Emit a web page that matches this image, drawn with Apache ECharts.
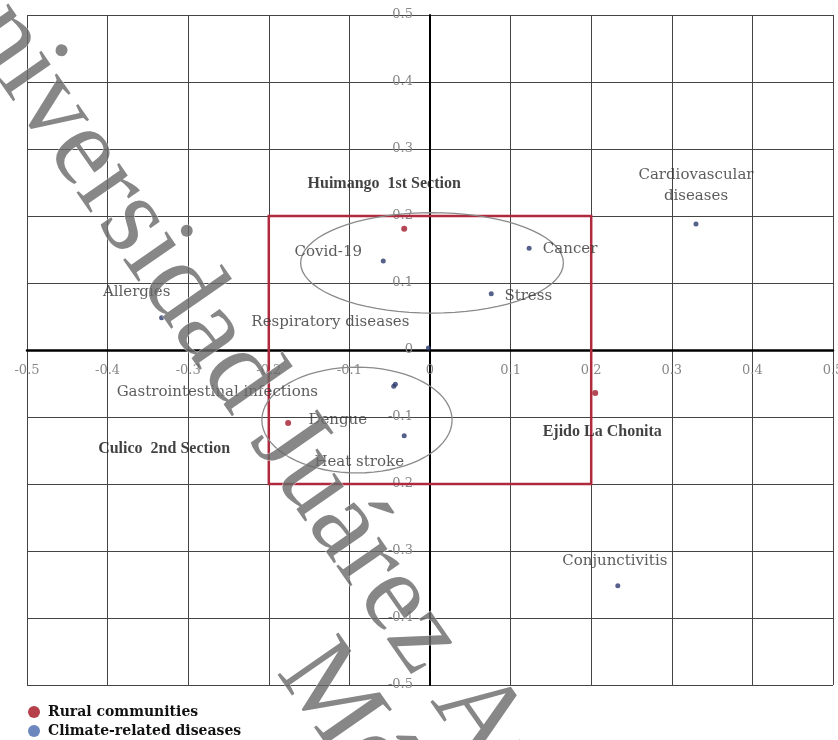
<!DOCTYPE html>
<html>
<head>
<meta charset="utf-8">
<style>
  html, body { margin: 0; padding: 0; background: #fff; }
  #chart { width: 838px; height: 740px; }
</style>
<script src="https://cdn.jsdelivr.net/npm/echarts@6/dist/echarts.min.js"></script>
</head>
<body>
<div id="chart"></div>
<script>
// climate-related diseases (blue points)
const diseaseNames = ['Allergies', 'Covid-19', 'Cancer', 'Stress', 'Cardiovascular\ndiseases',
  'Respiratory diseases', 'Gastrointestinal infections', 'Dengue', 'Heat stroke', 'Conjunctivitis']
const diseaseX = [-0.333, -0.058, 0.123, 0.076, 0.330, -0.002, -0.043, -0.045, -0.032, 0.233]
const diseaseY = [0.048, 0.133, 0.152, 0.084, 0.188, 0.003, -0.051, -0.054, -0.128, -0.352]

// rural communities (red points)
const communityNames = ['Huimango  1st Section', 'Culico  2nd Section', 'Ejido La Chonita']
const communityX = [-0.032, -0.176, 0.205]
const communityY = [0.181, -0.109, -0.064]

// ellipses drawn around the clusters: [cx, cy, rx, ry]
const clusterEllipses = [
  [0.0025, 0.130, 0.163, 0.075],
  [-0.0906, -0.1045, 0.118, 0.079]
]

// label placement (pixels from the point)
const labelOffsets = {
  'Allergies': [-25, -26],
  'Covid-19': [-55, -9],
  'Cancer': [41, 1],
  'Stress': [37, 2],
  'Cardiovascular\ndiseases': [0, -38],
  'Respiratory diseases': [-98, -26],
  'Gastrointestinal infections': [-178, 8],
  'Dengue': [-56, 34],
  'Heat stroke': [-45, 26],
  'Conjunctivitis': [-3, -25],
  'Huimango  1st Section': [-20, -45],
  'Culico  2nd Section': [-124, 26],
  'Ejido La Chonita': [7, 39]
}

const serif = '"DejaVu Serif", serif'
const timesLike = '"Liberation Serif", serif'

function points(names, xs, ys, bold) {
  return names.map((n, i) => ({
    name: n,
    value: [xs[i], ys[i]],
    label: {
      show: true,
      position: 'inside',
      offset: labelOffsets[n],
      formatter: '{b}',
      color: bold ? '#111' : '#333',
      fontFamily: bold ? timesLike : serif,
      fontWeight: bold ? 'bold' : 'normal',
      fontSize: bold ? 16 : 15,
      lineHeight: 21,
      align: 'center'
    }
  }))
}

const myChart = echarts.init(document.getElementById('chart'))

const gridBox = { left: 27, right: 5, top: 15, bottom: 55, outerBoundsMode: 'none' }

const axisCommon = {
  type: 'value',
  min: -0.5,
  max: 0.5,
  interval: 0.1,
  axisTick: { show: false },
  axisLine: { onZero: false, lineStyle: { color: '#000', width: 2.5 } },
  splitLine: { show: true, lineStyle: { color: '#444', width: 1 } },
  axisLabel: {
    color: '#888',
    fontFamily: serif,
    fontSize: 13,
    formatter: v => String(Math.round(v * 10) / 10)
  }
}

const watermarkStyle = {
  fontFamily: timesLike,
  fontSize: 113,
  fill: 'rgba(105,105,105,0.8)',
  stroke: 'rgba(255,255,255,0.6)',
  lineWidth: 1,
  align: 'left',
  verticalAlign: 'middle'
}

const option = {
  backgroundColor: '#fff',
  animation: false,
  grid: gridBox,
  xAxis: Object.assign({}, axisCommon, {
    axisLabel: Object.assign({}, axisCommon.axisLabel, { margin: 14 })
  }),
  yAxis: Object.assign({}, axisCommon, {
    axisLine: { onZero: false, lineStyle: { color: '#000', width: 2 } },
    axisLabel: Object.assign({}, axisCommon.axisLabel, { margin: 17 })
  }),
  legend: {
    orient: 'vertical',
    left: 28,
    top: 705,
    padding: 0,
    itemWidth: 12,
    itemHeight: 12,
    itemGap: 5,
    icon: 'circle',
    textStyle: { fontFamily: serif, fontWeight: 'bold', fontSize: 14, color: '#111', padding: [0, 0, 0, 3] },
    data: [
      { name: 'Rural communities', itemStyle: { color: '#a3101c' } },
      { name: 'Climate-related diseases', itemStyle: { color: '#4669ad' } }
    ]
  },
  series: [
    {
      type: 'custom',
      name: 'clusters',
      silent: true,
      z: 3,
      data: clusterEllipses,
      renderItem: function(params, api) {
        const cx = api.value(0), cy = api.value(1), rx = api.value(2), ry = api.value(3)
        const pts = []
        for (let k = 0; k <= 72; k++) {
          const t = k / 72 * Math.PI * 2
          pts.push(api.coord([cx + rx * Math.cos(t), cy + ry * Math.sin(t)]))
        }
        return {
          type: 'polyline',
          shape: { points: pts },
          style: { stroke: '#8a8a8a', lineWidth: 1.3, fill: 'none' }
        }
      }
    },
    {
      type: 'scatter',
      name: 'Rural communities',
      symbolSize: 6,
      z: 5,
      itemStyle: { color: '#a0192a' },
      data: points(communityNames, communityX, communityY, true),
      markArea: {
        silent: true,
        itemStyle: { color: 'rgba(0,0,0,0)', borderColor: '#b02a3e', borderWidth: 2.5 },
        data: [[{ coord: [-0.2, 0.2] }, { coord: [0.2, -0.2] }]]
      }
    },
    {
      type: 'scatter',
      name: 'Climate-related diseases',
      symbolSize: 5,
      z: 5,
      itemStyle: { color: '#2c3a6e' },
      data: points(diseaseNames, diseaseX, diseaseY, false)
    }
  ],
  graphic: [
    {
      type: 'text',
      x: -58,
      y: -53,
      rotation: -55.2 * Math.PI / 180,
      silent: true,
      z: 100,
      style: Object.assign({ text: 'Universidad Juárez Autónoma de Tabasco' }, watermarkStyle)
    },
    {
      type: 'text',
      x: 300,
      y: 655,
      rotation: -55.2 * Math.PI / 180,
      silent: true,
      z: 100,
      style: Object.assign({ text: 'México' }, watermarkStyle)
    }
  ]
}

myChart.setOption(option)

// move both axes (line + labels) onto the zero lines
const zeroX = myChart.convertToPixel({ xAxisIndex: 0 }, 0)
const zeroY = myChart.convertToPixel({ yAxisIndex: 0 }, 0)
const bottomEdge = 740 - gridBox.bottom
myChart.setOption({
  yAxis: { offset: -(zeroX - gridBox.left) },
  xAxis: { offset: -(bottomEdge - zeroY) }
})

window.addEventListener('resize', () => myChart.resize())
</script>
</body>
</html>
